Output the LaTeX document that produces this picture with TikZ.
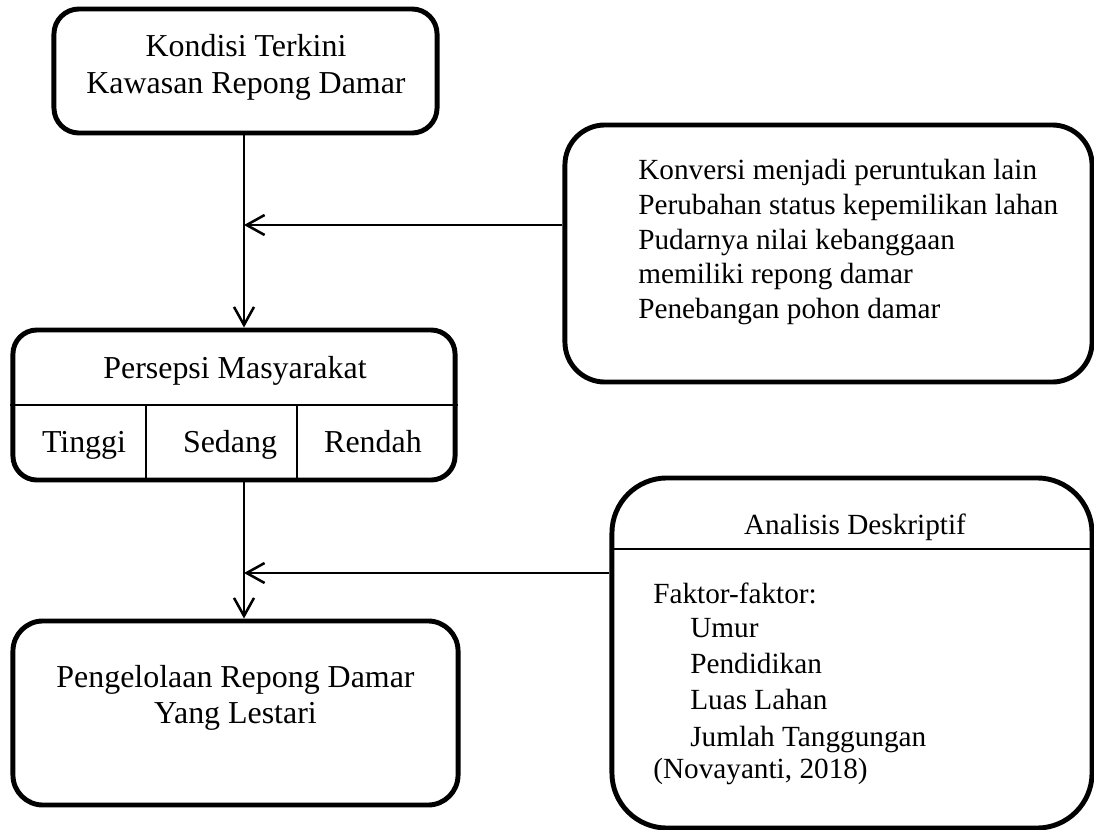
\documentclass[tikz,border=0pt]{standalone}
\usepackage{fontspec}
\setmainfont{Liberation Serif}
\usetikzlibrary{arrows.meta}

\tikzset{
  box/.style={draw, line width=3.5pt, inner sep=0pt},
  title/.style={anchor=base, inner sep=0pt, font=\fontsize{22.7}{27}\selectfont},
  item/.style={anchor=base west, inner sep=0pt, font=\fontsize{20.8}{25}\selectfont},
  link/.style={line width=1.8pt, -{Straight Barb[length=4.5mm, width=5mm]}},
  rule/.style={line width=1.8pt}
}

\begin{document}
\begin{tikzpicture}[x=0.025cm, y=-0.025cm]
    \useasboundingbox (0,0) rectangle (1094,830);

    % boxes
    \node[box, rounded corners=0.625cm, minimum width=9.575cm, minimum height=3.1cm] (kondisi) at (245.5,71) {};
    \node[box, rounded corners=0.6cm, minimum width=11.05cm, minimum height=3.75cm] (persepsi) at (234,405) {};
    \node[box, rounded corners=1cm, minimum width=13.175cm, minimum height=6.425cm] (konversi) at (828.5,253.5) {};
    \node[box, rounded corners=0.75cm, minimum width=11.125cm, minimum height=4.6cm] (pengelolaan) at (235.5,713) {};
    \node[box, rounded corners=1.375cm, minimum width=12cm, minimum height=8.75cm] (analisis) at (852,653) {};

    % dividers
    \draw[rule] (persepsi.west) -- (persepsi.east);
    \draw[rule] (146,405) -- (146,480);
    \draw[rule] (297,405) -- (297,480);
    \draw[rule] (612,549) -- (1092,549);

    % texts
    \node[title] (kondisi1) at (246,56) {Kondisi Terkini};
    \node[title] (kondisi2) at (246,93) {Kawasan Repong Damar};
    \node[title] (persepsi0) at (235,378) {Persepsi Masyarakat};
    \node[title] (tinggi) at (84,452) {Tinggi};
    \node[title] (sedang) at (230,452) {Sedang};
    \node[title] (rendah) at (373,452) {Rendah};
    \node[title] (kelola1) at (235.5,687) {Pengelolaan Repong Damar};
    \node[title] (kelola2) at (235.5,723) {Yang Lestari};

    \node[item] (konv1) at (638,179) {Konversi menjadi peruntukan lain};
    \node[item] (konv2) at (638,214) {Perubahan status kepemilikan lahan};
    \node[item] (konv3) at (638,249) {Pudarnya nilai kebanggaan};
    \node[item] (konv4) at (638,283) {memiliki repong damar};
    \node[item] (konv5) at (638,318) {Penebangan pohon damar};

    \node[item, anchor=base] (anal0) at (855,534) {Analisis Deskriptif};
    \node[item] (faktor) at (653,603) {Faktor-faktor:};
    \node[item] (umur) at (690,637) {Umur};
    \node[item] (didik) at (690,673) {Pendidikan};
    \node[item] (luas) at (690,709) {Luas Lahan};
    \node[item] (jumlah) at (690,746) {Jumlah Tanggungan};
    \node[item] (sumber) at (653,778) {(Novayanti, 2018)};

    % arrows
    \coordinate (j1) at (244,225);
    \coordinate (j2) at (244,573);
    \draw[link] (j1 |- kondisi.south) -- (j1 |- persepsi.north);
    \draw[link] (konversi.west |- j1) -- (j1);
    \draw[link] (j2 |- persepsi.south) -- (j2 |- pengelolaan.north);
    \draw[link] (analisis.west |- j2) -- (j2);
\end{tikzpicture}
\end{document}
